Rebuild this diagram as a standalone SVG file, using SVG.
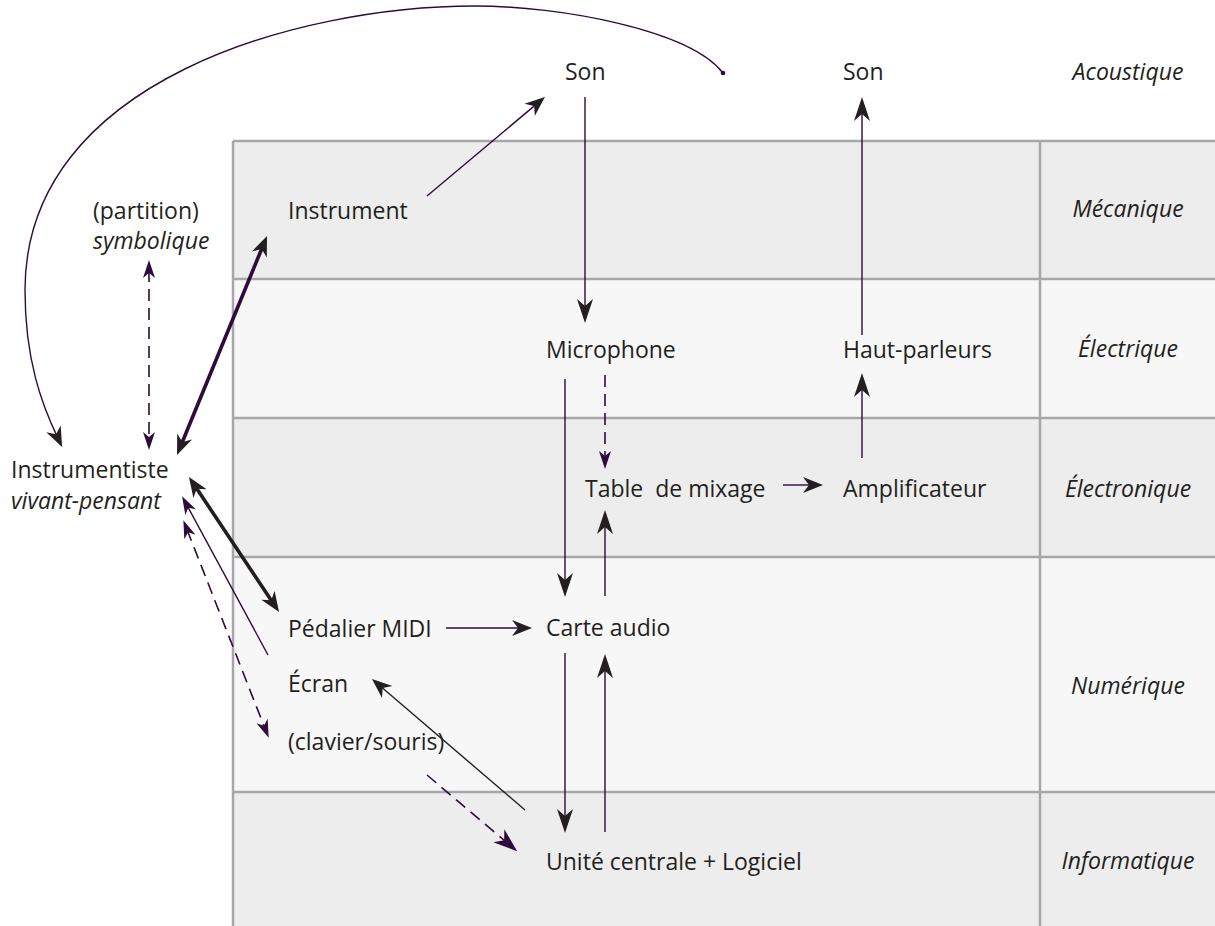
<svg xmlns="http://www.w3.org/2000/svg" width="1215" height="926" viewBox="0 0 1215 926">
<style>
.t{font-family:"Open Sans","Noto Sans","Liberation Sans",sans-serif;font-size:23px;fill:#231f20}
.i{font-style:italic}
.r{text-anchor:middle}
.band1{fill:#ededed}
.band2{fill:#f7f7f7}
.grid{stroke:#a7a7ab;stroke-width:2.5;fill:none}
.ln{fill:none;stroke:#2d0b3a;stroke-width:1.4}
.blk{stroke:#231f20}
.dash{stroke-dasharray:12 7;stroke-width:1.6}
.thick{stroke-width:3.6}
</style>
<defs>
<marker id="a" markerUnits="userSpaceOnUse" markerWidth="30" markerHeight="30" refX="10" refY="0" orient="auto-start-reverse" overflow="visible">
<path d="M0,-8 L20,0 L0,8 L6,0 Z" fill="#231f20"/>
</marker>
<marker id="av" markerUnits="userSpaceOnUse" markerWidth="30" markerHeight="30" refX="14" refY="0" orient="auto-start-reverse" overflow="visible">
<path d="M0,-8 L24,0 L0,8 L7,0 Z" fill="#231f20"/>
</marker>
<marker id="ad" markerUnits="userSpaceOnUse" markerWidth="30" markerHeight="30" refX="8" refY="0" orient="auto-start-reverse" overflow="visible">
<path d="M0,-6 L18,0 L0,6 L5,0 Z" fill="#2d0b3a"/>
</marker>
<marker id="ap" markerUnits="userSpaceOnUse" markerWidth="30" markerHeight="30" refX="12" refY="0" orient="auto-start-reverse" overflow="visible">
<path d="M0,-8.5 L24,0 L0,8.5 L7,0 Z" fill="#2d0b3a"/>
</marker>
</defs>
<rect width="1215" height="926" fill="#ffffff"/>
<g id="table">
<rect class="band1" x="233" y="141" width="982" height="138"/>
<rect class="band2" x="233" y="279" width="982" height="139"/>
<rect class="band1" x="233" y="418" width="982" height="139"/>
<rect class="band2" x="233" y="557" width="982" height="235"/>
<rect class="band1" x="233" y="792" width="982" height="134"/>
<path class="grid" d="M233,141 H1215 M233,279 H1215 M233,418 H1215 M233,557 H1215 M233,792 H1215"/>
<path class="grid" stroke-width="2" d="M233,141 V926 M1040,141 V926"/>
</g>
<g id="connectors">
<path class="ln" d="M427,196 L537.3,103.4" marker-end="url(#a)"/>
<path class="ln" d="M585,97 V313" marker-end="url(#av)"/>
<path class="ln" d="M862,335 V107" marker-end="url(#av)"/>
<path class="ln" d="M723,73 C690,30 560,6 475,6 C300,6 25,80 25,290 C25,360 42,405 57.8,437.9" marker-end="url(#a)"/>
<circle cx="723" cy="73" r="2.3" fill="#2d0b3a"/>
<path class="ln" d="M565,379 V587" marker-end="url(#av)"/>
<path class="ln dash" d="M605,375 V459" marker-end="url(#ad)"/>
<path class="ln" d="M605,596 V520" marker-end="url(#av)"/>
<path class="ln" d="M783,485 H813" marker-end="url(#a)"/>
<path class="ln" d="M862,458 V383" marker-end="url(#av)"/>
<path class="ln" d="M446,628 H522" marker-end="url(#a)"/>
<path class="ln" d="M565,653 V823" marker-end="url(#av)"/>
<path class="ln" d="M605,832 V664" marker-end="url(#av)"/>
<path class="ln blk" stroke-width="1.2" d="M525,810 L379.6,685.5" marker-end="url(#a)"/>
<path class="ln dash" d="M427,775 L508,843.5" marker-end="url(#ap)"/>
<path class="ln thick" d="M180.8,445.8 L263.2,245.2" marker-start="url(#a)" marker-end="url(#a)"/>
<path class="ln dash" d="M149,270 V440" marker-start="url(#ad)" marker-end="url(#ad)"/>
<path class="ln thick blk" stroke-width="3.2" d="M194.5,485.3 L273.5,603.7" marker-start="url(#a)" marker-end="url(#a)"/>
<path class="ln" stroke-width="1.2" d="M268,655 L186.8,505" marker-end="url(#ad)"/>
<path class="ln dash" d="M187,529.5 L265,728.5" marker-start="url(#ad)" marker-end="url(#ad)"/>
</g>
<g id="son1"><text class="t" x="565" y="80">Son</text></g>
<g id="son2"><text class="t" x="843" y="80">Son</text></g>
<g id="acoustique"><text class="t i r" x="1128" y="80">Acoustique</text></g>
<g id="instrument"><text class="t" x="288" y="219">Instrument</text></g>
<g id="partition"><text class="t" x="93" y="219">(partition)</text><text class="t i" x="93" y="249">symbolique</text></g>
<g id="mecanique"><text class="t i r" x="1128" y="217">Mécanique</text></g>
<g id="microphone"><text class="t" x="546" y="358">Microphone</text></g>
<g id="hautparleurs"><text class="t" x="843" y="358">Haut-parleurs</text></g>
<g id="electrique"><text class="t i r" x="1128" y="357">Électrique</text></g>
<g id="instrumentiste"><text class="t" x="11" y="478">Instrumentiste</text><text class="t i" x="11" y="509">vivant-pensant</text></g>
<g id="table-mixage"><text class="t" x="585" y="497" xml:space="preserve">Table  de mixage</text></g>
<g id="amplificateur"><text class="t" x="843" y="497">Amplificateur</text></g>
<g id="electronique"><text class="t i r" x="1128" y="497">Électronique</text></g>
<g id="pedalier"><text class="t" x="288" y="637">Pédalier MIDI</text></g>
<g id="carte-audio"><text class="t" x="546" y="636">Carte audio</text></g>
<g id="ecran"><text class="t" x="288" y="692">Écran</text></g>
<g id="clavier"><text class="t" x="288" y="750">(clavier/souris)</text></g>
<g id="numerique"><text class="t i r" x="1128" y="694">Numérique</text></g>
<g id="unite"><text class="t" x="546" y="870">Unité centrale + Logiciel</text></g>
<g id="informatique"><text class="t i r" x="1128" y="869">Informatique</text></g>
</svg>
